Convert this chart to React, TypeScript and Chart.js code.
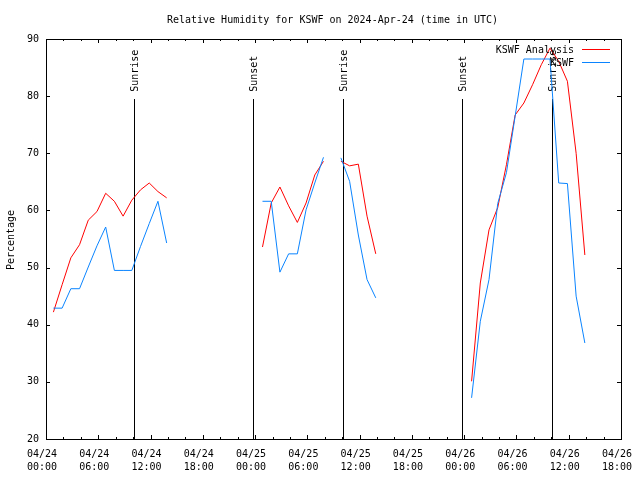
import React, { useEffect, useRef } from "react";
import { Chart, registerables } from "chart.js";

Chart.register(...registerables);

const TITLE = "Relative Humidity for KSWF on 2024-Apr-24 (time in UTC)";
const Y_TITLE = "Percentage";
const FONT_FAMILY = "'DejaVu Sans Mono', monospace";

const DAYS = ["04/24", "04/25", "04/26"];
const OBS_TIMES = [
  "00:51", "01:51", "02:51", "03:51", "04:51", "05:51", "06:51",
  "07:51", "08:51", "09:51", "10:51", "11:51", "12:51", "13:51",
];

const ANALYSIS_0424 = [42.2, 47.0, 51.7, 54.0, 58.3, 59.8, 63.0, 61.6, 59.0, 61.8, 63.6, 64.8, 63.3, 62.2];
const ANALYSIS_0425 = [53.6, 61.3, 64.1, 60.8, 57.9, 61.3, 66.2, 68.6, null, 68.6, 67.8, 68.1, 59.0, 52.4];
const ANALYSIS_0426 = [30.1, 47.3, 56.6, 60.5, 68.0, 76.7, 78.8, 82.0, 85.5, 88.4, 86.1, 82.6, 70.0, 52.2];

const KSWF_0424 = [42.9, 42.9, 46.3, 46.3, 50.1, 53.8, 57.1, 49.5, 49.5, 49.5, 53.7, 57.7, 61.6, 54.3];
const KSWF_0425 = [61.6, 61.6, 49.2, 52.4, 52.4, 60.1, 64.8, 69.3, null, 69.2, 65.1, 55.7, 47.9, 44.7];
const KSWF_0426 = [27.2, 40.6, 47.9, 61.2, 66.6, 76.5, 86.5, 86.5, 86.5, 86.5, 64.8, 64.7, 45.0, 36.8];

const EVENT_LABELS = ["Sunrise", "Sunset", "Sunrise", "Sunset", "Sunrise"];
const EVENT_TIMES = ["04/24 10:09", "04/24 23:43", "04/25 10:08", "04/25 23:47", "04/26 10:07"];

const X_TICK_DATES = ["04/24", "04/24", "04/24", "04/24", "04/25", "04/25", "04/25", "04/25", "04/26", "04/26", "04/26", "04/26"];
const X_TICK_TIMES = ["00:00", "06:00", "12:00", "18:00", "00:00", "06:00", "12:00", "18:00", "00:00", "06:00", "12:00", "18:00"];

const Y_MIN = 20;
const Y_MAX = 90;
const Y_STEP = 10;

const ANALYSIS_COLOR = "#ff0000";
const KSWF_COLOR = "#0a84ff";

function toHours(stamp: string): number {
  const [date, time] = stamp.split(" ");
  const [hh, mm] = time.split(":").map(Number);
  return DAYS.indexOf(date) * 24 + hh + mm / 60;
}

function buildSeries(byDay: (number | null)[][]) {
  const pts: { x: number; y: number | null }[] = [];
  byDay.forEach((vals, d) => {
    vals.forEach((v, i) => {
      pts.push({ x: toHours(DAYS[d] + " " + OBS_TIMES[i]), y: v });
    });
    if (d < byDay.length - 1) {
      pts.push({ x: toHours(DAYS[d] + " " + OBS_TIMES[OBS_TIMES.length - 1]) + 0.5, y: null });
    }
  });
  return pts;
}

const FONT = "10px " + FONT_FAMILY;

const decorPlugin = {
  id: "decor",
  beforeDatasetsDraw(chart: any) {
    const { ctx, chartArea: a, scales } = chart;
    const x = scales.x;
    const h = a.bottom - a.top;
    ctx.save();
    ctx.strokeStyle = "#000";
    ctx.fillStyle = "#000";
    ctx.lineWidth = 1;
    ctx.font = FONT;
    EVENT_TIMES.forEach((t, i) => {
      const px = Math.round(x.getPixelForValue(toHours(t))) + 0.5;
      ctx.beginPath();
      ctx.moveTo(px, a.bottom);
      ctx.lineTo(px, a.bottom - 0.85 * h);
      ctx.stroke();
      ctx.save();
      ctx.translate(px + 1, a.bottom - 0.868 * h);
      ctx.rotate(-Math.PI / 2);
      ctx.textAlign = "left";
      ctx.textBaseline = "middle";
      ctx.fillText(EVENT_LABELS[i], 0, 0);
      ctx.restore();
    });
    ctx.restore();
  },
  afterDraw(chart: any) {
    const { ctx, chartArea: a, scales } = chart;
    const x = scales.x;
    const y = scales.y;
    ctx.save();
    ctx.strokeStyle = "#000";
    ctx.fillStyle = "#000";
    ctx.lineWidth = 1;
    // border
    ctx.strokeRect(a.left + 0.5, a.top + 0.5, a.right - a.left, a.bottom - a.top);
    // x ticks (major every 6h, minor every 2h), inward, mirrored
    ctx.beginPath();
    const xMin = x.min;
    const xMax = x.max;
    for (let v = xMin; v <= xMax + 1e-6; v += 2) {
      const major = Math.abs((v - xMin) % 6) < 1e-6;
      const len = major ? 4 : 2;
      const px = Math.round(x.getPixelForValue(v)) + 0.5;
      ctx.moveTo(px, a.bottom);
      ctx.lineTo(px, a.bottom - len);
      ctx.moveTo(px, a.top);
      ctx.lineTo(px, a.top + len);
    }
    for (let v = Y_MIN; v <= Y_MAX; v += Y_STEP) {
      const py = Math.round(y.getPixelForValue(v)) + 0.5;
      ctx.moveTo(a.left, py);
      ctx.lineTo(a.left + 4, py);
      ctx.moveTo(a.right, py);
      ctx.lineTo(a.right - 4, py);
    }
    ctx.stroke();

    ctx.font = FONT;
    // title
    ctx.textAlign = "center";
    ctx.textBaseline = "middle";
    ctx.fillText(TITLE, (a.left + a.right) / 2 - 1, 20);
    // y title
    ctx.save();
    ctx.translate(11, (a.top + a.bottom) / 2 + 1);
    ctx.rotate(-Math.PI / 2);
    ctx.fillText(Y_TITLE, 0, 0);
    ctx.restore();
    // legend
    const items = chart.data.datasets;
    items.forEach((ds: any, i: number) => {
      const ly = a.top + 11 + i * 13;
      ctx.textAlign = "right";
      ctx.fillStyle = "#000";
      ctx.fillText(ds.label, a.right - 47, ly);
      ctx.strokeStyle = ds.borderColor;
      ctx.beginPath();
      ctx.moveTo(a.right - 39, ly - 0.5);
      ctx.lineTo(a.right - 11, ly - 0.5);
      ctx.stroke();
    });
    ctx.restore();
  },
};

export default function App() {
  const ref = useRef<HTMLCanvasElement | null>(null);
  useEffect(() => {
    if (!ref.current) return;
    const chart = new Chart(ref.current, {
      type: "line",
      data: {
        datasets: [
          {
            label: "KSWF Analysis",
            data: buildSeries([ANALYSIS_0424, ANALYSIS_0425, ANALYSIS_0426]) as any,
            borderColor: ANALYSIS_COLOR,
            backgroundColor: ANALYSIS_COLOR,
            borderWidth: 1,
            pointRadius: 0,
            tension: 0,
            spanGaps: false,
            order: 2,
          },
          {
            label: "KSWF",
            data: buildSeries([KSWF_0424, KSWF_0425, KSWF_0426]) as any,
            borderColor: KSWF_COLOR,
            backgroundColor: KSWF_COLOR,
            borderWidth: 1,
            pointRadius: 0,
            tension: 0,
            spanGaps: false,
            order: 1,
          },
        ],
      },
      options: {
        responsive: false,
        animation: false,
        devicePixelRatio: 1,
        layout: { autoPadding: false, padding: { left: 0, top: 39, right: 19, bottom: 0 } },
        plugins: {
          legend: { display: false },
          title: { display: false },
          tooltip: { enabled: false },
        },
        scales: {
          x: {
            type: "linear",
            min: 0,
            max: 66,
            grid: { display: false, drawTicks: false },
            border: { display: false },
            afterFit: (s: any) => {
              s.height = 41;
              s.paddingLeft = 0;
              s.paddingRight = 0;
            },
            ticks: {
              stepSize: 6,
              autoSkip: false,
              maxRotation: 0,
              minRotation: 0,
              padding: 8.5,
              labelOffset: -4,
              color: "#000",
              font: { family: FONT_FAMILY, size: 10, lineHeight: 1.3 },
              callback: (_v: any, i: number) => [X_TICK_DATES[i], X_TICK_TIMES[i]],
            },
          },
          y: {
            min: Y_MIN,
            max: Y_MAX,
            grid: { display: false, drawTicks: false },
            border: { display: false },
            afterFit: (s: any) => {
              s.width = 46;
              s.paddingTop = 0;
              s.paddingBottom = 0;
            },
            ticks: {
              stepSize: Y_STEP,
              padding: 7,
              color: "#000",
              font: { family: FONT_FAMILY, size: 10 },
            },
          },
        },
      },
      plugins: [decorPlugin],
    });
    return () => chart.destroy();
  }, []);
  return (
    <div style={{ position: "absolute", left: 0, top: 0, width: 640, height: 480, background: "#fff" }}>
      <canvas ref={ref} width={640} height={480} style={{ display: "block", width: 640, height: 480 }} />
    </div>
  );
}
